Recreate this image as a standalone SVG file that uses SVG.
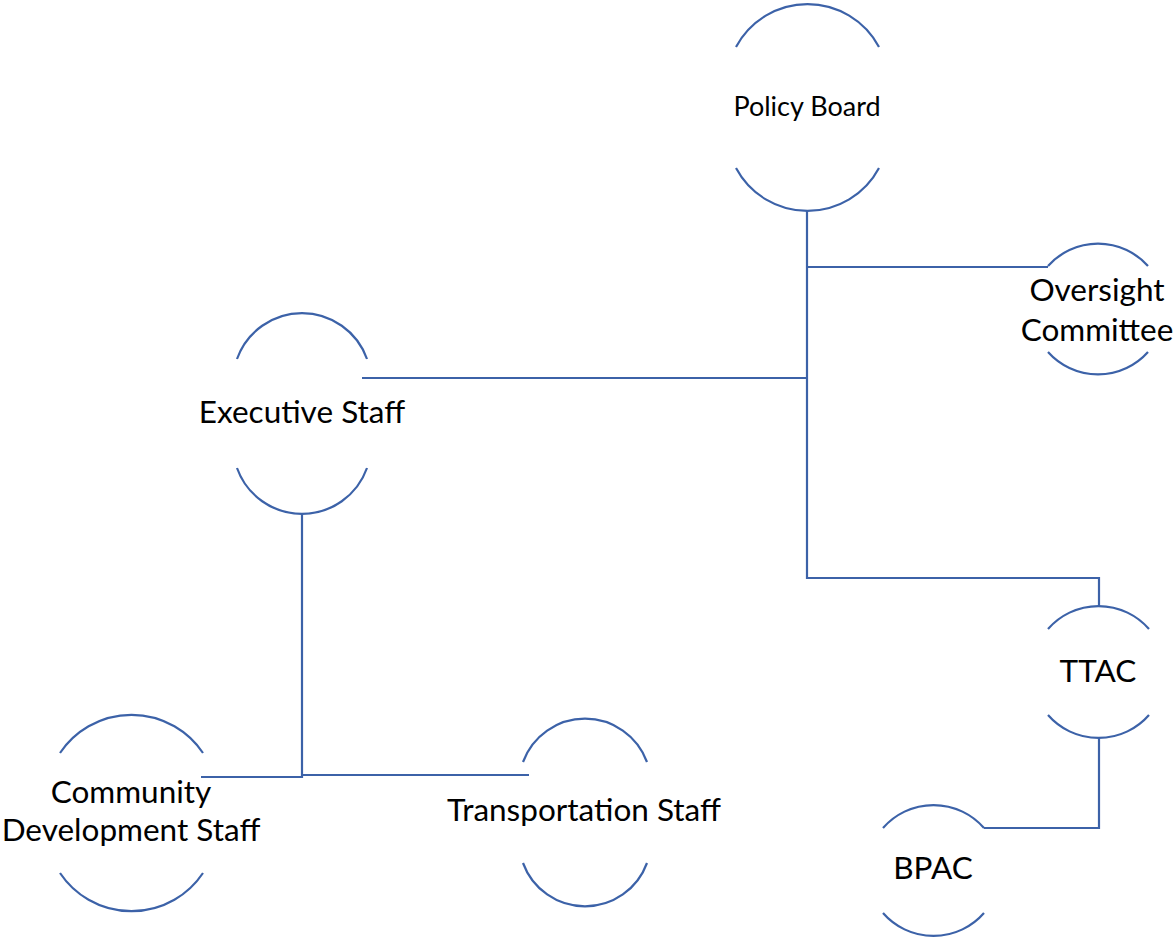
<svg xmlns="http://www.w3.org/2000/svg" width="1176" height="939" viewBox="0 0 1176 939">
<style>
.arc{fill:none;stroke:#3C62A8;stroke-width:2.2}
.con{fill:none;stroke:#3C62A8;stroke-width:2.2}
.t{font-family:Lato,"Liberation Sans",sans-serif;font-size:31.5px;fill:#000;text-anchor:middle}
.s{font-size:27px}
</style>
<rect width="1176" height="939" fill="#fff"/>
<g id="connectors">
<path class="con" d="M807 211 V578 H1099 V606"/>
<path class="con" d="M807 267 H1048"/>
<path class="con" d="M807 378 H362"/>
<path class="con" d="M302 513 V777 H201"/>
<path class="con" d="M302 775 H529"/>
<path class="con" d="M1099 738 V828 H984"/>
</g>
<g id="policy-board">
<path class="arc" d="M736 47 A81 81 0 0 1 879 47"/>
<path class="arc" d="M736 168 A81 81 0 0 0 879 168"/>
<text class="t s" x="807" y="116">Policy Board</text>
</g>
<g id="oversight-committee">
<path class="arc" d="M1048 266 A67 67 0 0 1 1148 266"/>
<path class="arc" d="M1048 352 A67 67 0 0 0 1148 352"/>
<text class="t" x="1097" y="301">Oversight</text>
<text class="t" x="1097" y="341">Committee</text>
</g>
<g id="executive-staff">
<path class="arc" d="M237 359 A69 69 0 0 1 367 359"/>
<path class="arc" d="M237 468 A69 69 0 0 0 367 468"/>
<text class="t" x="302" y="423">Executive Staff</text>
</g>
<g id="community-development-staff">
<path class="arc" d="M60 753 A86 86 0 0 1 203 753"/>
<path class="arc" d="M60 873 A86 86 0 0 0 203 873"/>
<text class="t" x="131" y="803">Community</text>
<text class="t" x="131" y="841">Development Staff</text>
</g>
<g id="transportation-staff">
<path class="arc" d="M523 762 A66 66 0 0 1 647 762"/>
<path class="arc" d="M523 863 A66 66 0 0 0 647 863"/>
<text class="t" x="584" y="821">Transportation Staff</text>
</g>
<g id="ttac">
<path class="arc" d="M1048 629 A67 67 0 0 1 1149 629"/>
<path class="arc" d="M1048 715 A67 67 0 0 0 1149 715"/>
<text class="t" x="1098" y="682">TTAC</text>
</g>
<g id="bpac">
<path class="arc" d="M883 828 A67 67 0 0 1 984 828"/>
<path class="arc" d="M883 913 A67 67 0 0 0 984 913"/>
<text class="t" x="933" y="879">BPAC</text>
</g>
</svg>
